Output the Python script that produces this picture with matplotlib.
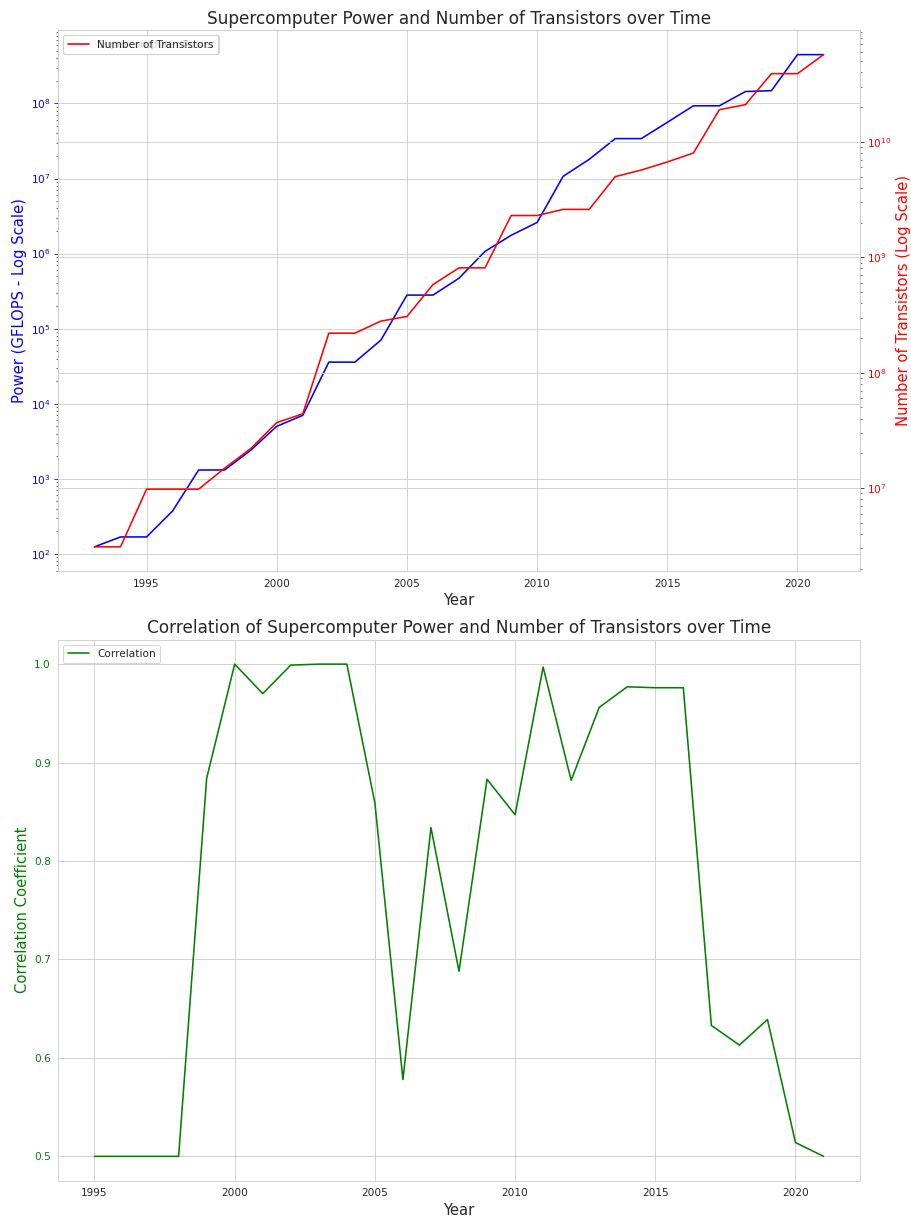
import matplotlib
matplotlib.use("Agg")
import matplotlib.pyplot as plt
import seaborn as sns

years = list(range(1993, 2022))
power_gflops = [124, 168, 168, 373, 1310, 1310, 2400, 5000, 7000, 35800, 35800, 70300,
                280000, 280000, 470000, 1070000, 1750000, 2600000, 10700000, 18000000,
                34000000, 34000000, 56000000, 93000000, 93000000, 144000000, 148000000,
                447000000, 447000000]
transistors = [3.1e6, 3.1e6, 9.8e6, 9.8e6, 9.8e6, 1.49e7, 2.2e7, 3.7e7, 4.4e7, 2.2e8, 2.2e8,
               2.8e8, 3.07e8, 5.8e8, 8.1e8, 8.1e8, 2.3e9, 2.3e9, 2.6e9, 2.6e9, 5.0e9, 5.7e9,
               6.7e9, 8.0e9, 1.9e10, 2.1e10, 3.9e10, 3.9e10, 5.7e10]

corr_years = list(range(1995, 2022))
correlation = [0.5, 0.5, 0.5, 0.5, 0.884, 1.0, 0.970, 0.999, 1.0, 1.0, 0.859, 0.578, 0.834,
               0.688, 0.883, 0.847, 0.997, 0.882, 0.956, 0.977, 0.976, 0.976, 0.633, 0.613,
               0.639, 0.514, 0.5]

sns.set_style("whitegrid")

DPI = 911 / 12
fig, (ax1, ax3) = plt.subplots(2, 1, figsize=(12, 1220 / DPI), dpi=DPI)
fig.subplots_adjust(left=0.0637, right=0.944, top=0.9754, bottom=0.032, hspace=0.1257)

ax1.plot(years, power_gflops, color='blue', label='Supercomputer Power')
ax1.set_yscale('log')
ax1.set_xlabel('Year', fontsize=14)
ax1.set_ylabel('Power (GFLOPS - Log Scale)', color='blue', fontsize=14)
ax1.tick_params(axis='y', labelcolor='blue')
ax1.legend(loc='upper left')

ax2 = ax1.twinx()
ax2.plot(years, transistors, color='red', label='Number of Transistors')
ax2.set_yscale('log')
ax2.set_ylabel('Number of Transistors (Log Scale)', color='red', fontsize=14)
ax2.tick_params(axis='y', labelcolor='red')
ax2.legend(loc='upper left')
ax1.set_title('Supercomputer Power and Number of Transistors over Time', fontsize=16)

ax3.plot(corr_years, correlation, color='green', label='Correlation')
ax3.set_xlabel('Year', fontsize=14)
ax3.set_ylabel('Correlation Coefficient', color='green', fontsize=14)
ax3.tick_params(axis='y', labelcolor='green')
ax3.set_title('Correlation of Supercomputer Power and Number of Transistors over Time', fontsize=16)
ax3.legend(loc='upper left')

fig.savefig('out.png', dpi=DPI)
